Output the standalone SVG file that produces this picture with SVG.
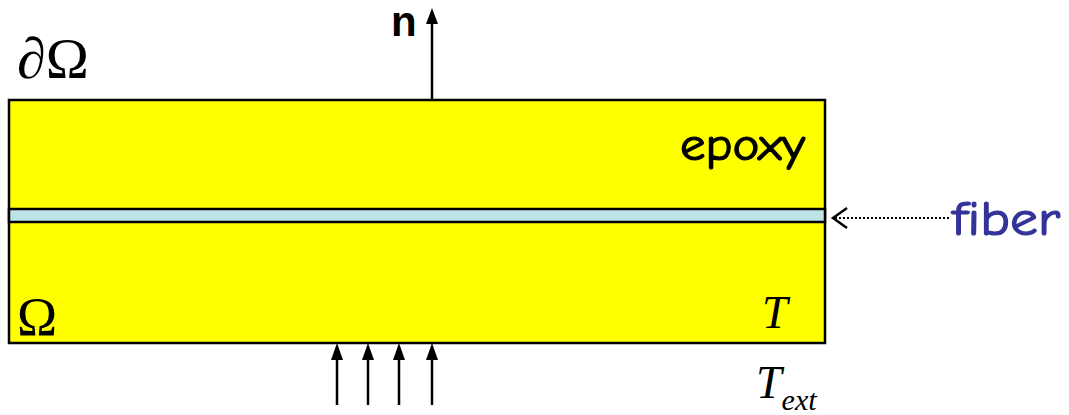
<svg xmlns="http://www.w3.org/2000/svg" width="1069" height="415" viewBox="0 0 1069 415">
<style>
.ln{stroke:#000;stroke-width:2.5;fill:none}
.head{fill:#000}
.serif{font-family:"Liberation Serif","DejaVu Serif",serif;fill:#000}
.hand{font-family:"Comic Neue","Comic Sans MS","DejaVu Sans","Noto Sans",sans-serif;stroke-width:1.2}
</style>
<rect width="1069" height="415" fill="#fff"/>
<g id="domain">
<rect x="9" y="100" width="816" height="243" fill="#ffff00" stroke="#000" stroke-width="2.5"/>
</g>
<g id="fiber-band">
<rect x="9" y="209" width="816" height="13" fill="#bde3e6" stroke="#000" stroke-width="2.5"/>
</g>
<g id="connectors">
<line class="ln" x1="432" y1="100" x2="432" y2="22"/>
<polygon class="head" points="432,8 426,24 438,24"/>
<line class="ln" x1="337" y1="405" x2="337" y2="358"/>
<polygon class="head" points="337,343 331,360 343,360"/>
<line class="ln" x1="368" y1="405" x2="368" y2="358"/>
<polygon class="head" points="368,343 362,360 374,360"/>
<line class="ln" x1="399" y1="405" x2="399" y2="358"/>
<polygon class="head" points="399,343 393,360 405,360"/>
<line class="ln" x1="432" y1="405" x2="432" y2="358"/>
<polygon class="head" points="432,343 426,360 438,360"/>
<line x1="835" y1="218" x2="950" y2="218" stroke="#000" stroke-width="2" stroke-dasharray="2,2"/>
<path d="M847,208 L833,218 L847,228" class="ln"/>
</g>
<g id="labels">
<text x="391" y="36" font-family="Liberation Sans,Arial,sans-serif" font-weight="bold" font-size="42">n</text>
<text x="17" y="78" class="serif" font-size="58"><tspan font-style="italic">∂</tspan>Ω</text>
<text x="17" y="335" class="serif" font-size="54">Ω</text>
<text x="680" y="160" class="hand" font-size="46" fill="#000" stroke="#000" textLength="125" lengthAdjust="spacingAndGlyphs">epoxy</text>
<text x="762" y="328" class="serif" font-style="italic" font-size="46">T</text>
<text x="756" y="398" class="serif" font-style="italic" font-size="46">T<tspan font-size="30" dy="12">ext</tspan></text>
<text x="952" y="235" class="hand" font-size="48" fill="#333399" stroke="#333399" textLength="108" lengthAdjust="spacingAndGlyphs">fiber</text>
</g>
</svg>
